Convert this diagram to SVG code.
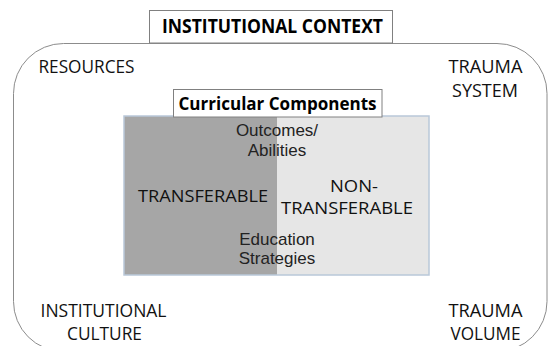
<svg xmlns="http://www.w3.org/2000/svg" width="548" height="346" viewBox="0 0 548 346">
<style>
.lbl{font-family:"Open Sans","Liberation Sans",sans-serif;font-size:18px;fill:#111;}
.mid{font-size:16.5px;}
.bold{font-family:"Open Sans","Liberation Sans",sans-serif;font-weight:bold;fill:#000;}
.ar{font-family:"Liberation Sans",Arial,sans-serif;font-size:17px;fill:#222;text-anchor:middle;}
.box{fill:#fff;stroke:#808080;stroke-width:1;}
</style>
<g id="context">
<rect x="13.5" y="43.5" width="533.5" height="308" rx="50" ry="50" fill="#fff" stroke="#8c8c8c" stroke-width="1"/>
<rect class="box" x="149.5" y="10.5" width="243" height="32.5"/>
<text class="bold" x="162" y="33" font-size="19" textLength="221" lengthAdjust="spacingAndGlyphs">INSTITUTIONAL CONTEXT</text>
</g>
<g id="resources">
<text class="lbl" x="38.5" y="73" textLength="96" lengthAdjust="spacingAndGlyphs">RESOURCES</text>
</g>
<g id="trauma-system">
<text class="lbl" x="448.5" y="73" textLength="74" lengthAdjust="spacingAndGlyphs">TRAUMA</text>
<text class="lbl" x="452" y="96.5" textLength="66" lengthAdjust="spacingAndGlyphs">SYSTEM</text>
</g>
<g id="institutional-culture">
<text class="lbl" x="40.5" y="316.5" textLength="126" lengthAdjust="spacingAndGlyphs">INSTITUTIONAL</text>
<text class="lbl" x="67" y="340" textLength="75" lengthAdjust="spacingAndGlyphs">CULTURE</text>
</g>
<g id="trauma-volume">
<text class="lbl" x="448.5" y="316.5" textLength="74" lengthAdjust="spacingAndGlyphs">TRAUMA</text>
<text class="lbl" x="450.5" y="340" textLength="70" lengthAdjust="spacingAndGlyphs">VOLUME</text>
</g>
<g id="curricular-components">
<rect x="124" y="116" width="153" height="159" fill="#a6a6a6"/>
<rect x="277" y="116" width="152" height="159" fill="#e6e6e6"/>
<rect x="124" y="116" width="305" height="159" fill="none" stroke="#b9c8d9" stroke-width="1.5"/>
<rect class="box" x="173.5" y="89.5" width="208.5" height="27.5"/>
<text class="bold" x="178.5" y="109.5" font-size="17" textLength="198" lengthAdjust="spacingAndGlyphs">Curricular Components</text>
<text class="ar" x="277" y="135.5">Outcomes/</text>
<text class="ar" x="277" y="155.5">Abilities</text>
<text class="lbl mid" x="138" y="201.5" textLength="130" lengthAdjust="spacingAndGlyphs">TRANSFERABLE</text>
<text class="lbl mid" x="330" y="191.5" textLength="48" lengthAdjust="spacingAndGlyphs">NON-</text>
<text class="lbl mid" x="281" y="214" textLength="132" lengthAdjust="spacingAndGlyphs">TRANSFERABLE</text>
<text class="ar" x="277" y="244.5">Education</text>
<text class="ar" x="277" y="264">Strategies</text>
</g>
<g id="connectors"></g>
</svg>
